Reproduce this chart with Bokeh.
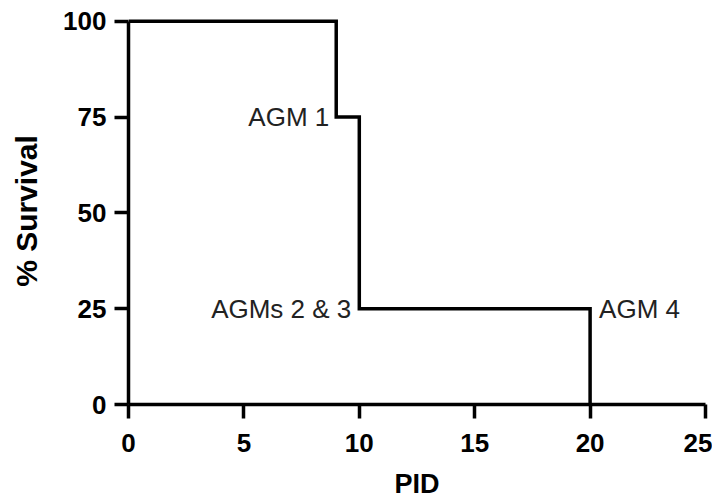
from bokeh.plotting import figure
from bokeh.models import ColumnDataSource, FixedTicker, Range1d
from bokeh.core.properties import value
from bokeh.embed import file_html
from bokeh.resources import INLINE

# data
pid = [0, 9, 10, 20]
survival = [100, 75, 25, 0]
label_text = ["AGM 1", "AGMs 2 & 3", "AGM 4"]
label_x = [9, 10, 20]
label_y = [75, 25, 25]
label_align = ["right", "right", "left"]
label_dx = [-7, -8, 9]
x_ticks = [0, 5, 10, 15, 20, 25]
y_ticks = [0, 25, 50, 75, 100]

p = figure(width=712, height=501, output_backend="svg", toolbar_location=None,
           x_range=Range1d(0, 25), y_range=Range1d(0, 101),
           min_border_left=128, min_border_right=7, min_border_top=17, min_border_bottom=90)
p.outline_line_color = None
p.grid.visible = False
p.background_fill_color = "white"
p.border_fill_color = "white"

p.step(pid, survival, mode="after", line_color="black", line_width=3.5, line_join="miter")

src = ColumnDataSource(dict(x=label_x, y=label_y, t=label_text, a=label_align, dx=label_dx))
p.text(x="x", y="y", text="t", text_align="a", x_offset="dx", text_baseline="middle",
       source=src, text_font=value("Liberation Sans"), text_font_size="26px",
       text_color="#222222")

for ax in (p.xaxis[0], p.yaxis[0]):
    ax.axis_line_width = 3.5
    ax.axis_line_color = "black"
    ax.major_tick_line_width = 3.5
    ax.major_tick_line_color = "black"
    ax.major_tick_out = 14
    ax.major_tick_in = 0
    ax.minor_tick_line_color = None
    ax.major_label_text_font = "Liberation Sans"
    ax.major_label_text_font_style = "bold"
    ax.major_label_text_font_size = "26px"
    ax.major_label_text_color = "black"
    ax.axis_label_text_font = "Liberation Sans"
    ax.axis_label_text_font_style = "bold"
    ax.axis_label_text_color = "black"

p.xaxis[0].ticker = FixedTicker(ticks=x_ticks)
p.yaxis[0].ticker = FixedTicker(ticks=y_ticks)
p.xaxis[0].bounds = (0, 25)
p.yaxis[0].bounds = (0, 100)
p.xaxis[0].axis_label = "PID"
p.yaxis[0].axis_label = "% Survival"
p.xaxis[0].axis_label_text_font_size = "27px"
p.yaxis[0].axis_label_text_font_size = "30px"
p.xaxis[0].major_label_standoff = 15
p.yaxis[0].major_label_standoff = 8
p.xaxis[0].axis_label_standoff = 14
p.yaxis[0].axis_label_standoff = 17

open("out.html", "w").write(file_html(p, INLINE))
